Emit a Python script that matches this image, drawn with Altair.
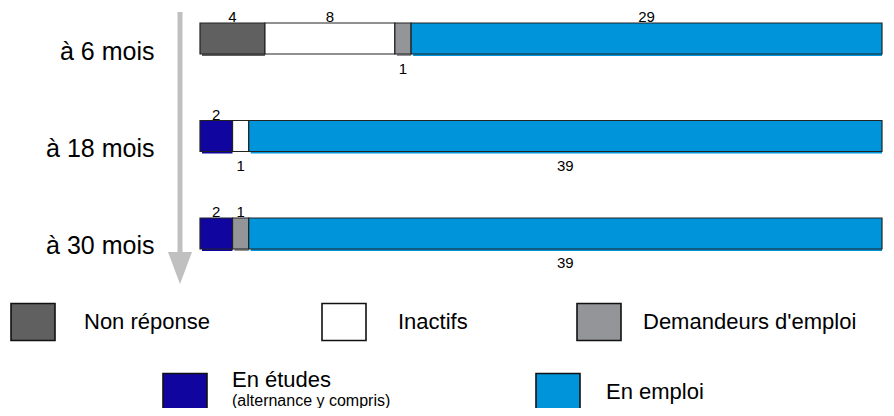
import altair as alt
import pandas as pd

row_names = ["à 6 mois", "à 18 mois", "à 30 mois"]
rows = ["à 6 mois"] * 4 + ["à 18 mois"] * 3 + ["à 30 mois"] * 3
cats = ["Non réponse", "Inactifs", "Demandeurs d'emploi", "En emploi",
        "En études", "Inactifs", "En emploi",
        "En études", "Demandeurs d'emploi", "En emploi"]
values = [4, 8, 1, 29,
          2, 1, 39,
          2, 1, 39]
label_side = ["above", "above", "below", "above",
              "above", "below", "below",
              "above", "above", "below"]

cat_names = ["Non réponse", "Inactifs", "Demandeurs d'emploi", "En études", "En emploi"]
cat_colors = ["#606060", "#FFFFFF", "#939598", "#10069F", "#0095DB"]

df = pd.DataFrame({
    "row": rows, "cat": cats, "value": values, "side": label_side,
    "order": list(range(len(values))),
})

FONT = "Liberation Sans"
SYMBOL = "M-1,-0.84H1V0.84H-1Z"

# legend placement (relative to plot area)
leg_pos = {
    "Non réponse": (-190, 276, 28, "middle"),
    "Inactifs": (121, 276, 31, "middle"),
    "Demandeurs d'emploi": (376, 276, 21, "middle"),
    "En études": (-38, 346, 24, "bottom"),
    "En emploi": (335, 346, 25, "middle"),
}

xscale = alt.Scale(domain=[0, 42], nice=False, zero=True)
yscale = alt.Scale(paddingInner=0.682, paddingOuter=0)

base = alt.Chart(df).transform_stack(
    stack="value", groupby=["row"], as_=["x0", "x1"],
    sort=[alt.SortField("order", order="ascending")],
).transform_calculate(mid="(datum.x0 + datum.x1) / 2")

Y = alt.Y("row:N", sort=row_names, scale=yscale, title=None)

shadow = base.mark_bar(xOffset=2, yOffset=2).encode(
    x=alt.X("x0:Q", scale=xscale, axis=None),
    x2="x1:Q",
    y=Y,
    color=alt.Color("cat:N", scale=alt.Scale(domain=cat_names, range=cat_colors), legend=None),
)

layers = [shadow]
for name, col in zip(cat_names, cat_colors):
    lx, ly, loff, lbase = leg_pos[name]
    layers.append(
        base.transform_filter(alt.datum.cat == name).mark_bar(
            stroke="#222222", strokeWidth=1.2
        ).encode(
            x=alt.X("x0:Q", scale=xscale, axis=None),
            x2="x1:Q",
            y=Y,
            color=alt.Color("cat:N", scale=alt.Scale(domain=[name], range=[col]),
                            legend=alt.Legend(
                                title=None, orient="none", legendX=lx, legendY=ly,
                                symbolType=SYMBOL, symbolSize=1936,
                                symbolStrokeColor="#111111", symbolStrokeWidth=1.6,
                                symbolOpacity=1,
                                labelFont=FONT, labelFontSize=22, labelColor="#000000",
                                labelOffset=loff, labelBaseline=lbase, labelLimit=400,
                                padding=0,
                            )),
        )
    )

above = base.transform_filter(alt.datum.side == "above").mark_text(
    baseline="alphabetic", dy=-16.5, fontSize=15, font=FONT, color="#000000"
).encode(x=alt.X("mid:Q", scale=xscale, axis=None), y=Y, text="value:Q")

below = base.transform_filter(alt.datum.side == "below").mark_text(
    baseline="alphabetic", dy=35, fontSize=15, font=FONT, color="#000000"
).encode(x=alt.X("mid:Q", scale=xscale, axis=None), y=Y, text="value:Q")

one = alt.Data(values=[{"a": 1}])
arrow_line = alt.Chart(one).mark_rule(color="#C0C0C0", strokeWidth=5).encode(
    x=alt.value(-20), y=alt.value(-11), y2=alt.value(232)
)
arrow_head = alt.Chart(one).mark_point(
    shape="M-0.75,-1L0.75,-1L0,1Z", filled=True, color="#C0C0C0", opacity=1, size=1024
).encode(x=alt.value(-20), y=alt.value(245))

sub_note = alt.Chart(one).mark_text(
    align="left", baseline="alphabetic", fontSize=16, font=FONT, color="#000000"
).encode(x=alt.value(32), y=alt.value(383), text=alt.value("(alternance y compris)"))

chart = alt.layer(arrow_line, arrow_head, *layers, above, below, sub_note).resolve_scale(
    color="independent"
).properties(
    width=682, height=226,
    autosize=alt.AutoSizeParams(type="none"),
    padding={"left": 192, "top": 15, "right": 4, "bottom": 159},
).configure_view(stroke=None).configure_axisY(
    labelFont=FONT, labelFontSize=25, labelColor="#000000", labelOffset=13,
    labelPadding=46, domain=False, ticks=False, grid=False,
)

chart.save("out.html", embed_options={"renderer": "svg", "actions": False})
